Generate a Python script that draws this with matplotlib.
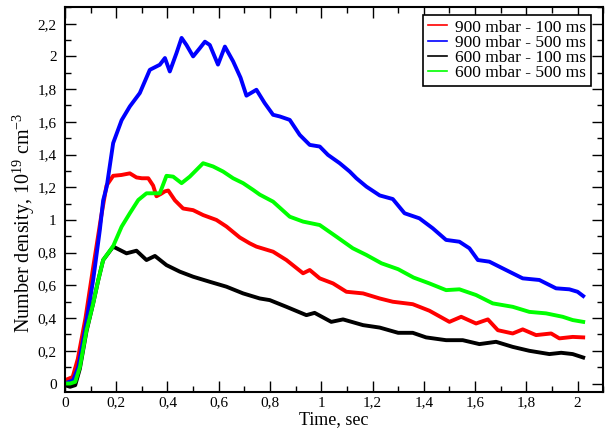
import numpy as np
import matplotlib.pyplot as plt
from matplotlib.ticker import MultipleLocator, FuncFormatter

plt.rcParams['font.family'] = ['Liberation Serif', 'DejaVu Serif']
plt.rcParams['mathtext.fontset'] = 'custom'
plt.rcParams['mathtext.rm'] = 'Liberation Serif'
plt.rcParams['mathtext.it'] = 'Liberation Serif:italic'

labels = ["900 mbar - 100 ms", "900 mbar - 500 ms", "600 mbar - 100 ms", "600 mbar - 500 ms"]
colors = ["#ff0000", "#0000ff", "#000000", "#00ff00"]

# 900 mbar - 100 ms
red_t = [0.0, 0.03, 0.05, 0.08, 0.11, 0.14, 0.162, 0.188, 0.22, 0.253, 0.279, 0.3, 0.325,
         0.344, 0.357, 0.375, 0.39, 0.403, 0.429, 0.461, 0.5, 0.539, 0.591, 0.63, 0.682,
         0.721, 0.747, 0.812, 0.864, 0.929, 0.955, 0.994, 1.046, 1.098, 1.163, 1.228,
         1.279, 1.357, 1.422, 1.5, 1.546, 1.604, 1.65, 1.689, 1.747, 1.786, 1.838,
         1.897, 1.929, 1.981, 2.022]
red_n = [0.02, 0.04, 0.15, 0.40, 0.71, 1.01, 1.21, 1.27, 1.275, 1.285, 1.26, 1.255, 1.255,
         1.21, 1.145, 1.16, 1.175, 1.18, 1.12, 1.07, 1.06, 1.03, 1.0, 0.96, 0.893,
         0.857, 0.837, 0.806, 0.755, 0.674, 0.694, 0.643, 0.612, 0.561, 0.551, 0.52,
         0.5, 0.485, 0.445, 0.377, 0.408, 0.367, 0.392, 0.326, 0.306, 0.331, 0.296,
         0.306, 0.276, 0.285, 0.282]

# 900 mbar - 500 ms
blue_t = [0.0, 0.032, 0.052, 0.078, 0.11, 0.136, 0.149, 0.163, 0.188, 0.221, 0.253, 0.292,
          0.331, 0.37, 0.39, 0.409, 0.435, 0.455, 0.474, 0.5, 0.526, 0.546, 0.565, 0.597,
          0.624, 0.656, 0.685, 0.708, 0.747, 0.779, 0.812, 0.838, 0.877, 0.916, 0.955,
          0.994, 1.026, 1.072, 1.111, 1.137, 1.176, 1.228, 1.279, 1.325, 1.383, 1.435,
          1.487, 1.539, 1.578, 1.611, 1.656, 1.708, 1.786, 1.851, 1.916, 1.968, 2.0, 2.022]
blue_n = [0.0, 0.02, 0.10, 0.326, 0.633, 0.939, 1.12, 1.204, 1.47, 1.61, 1.694, 1.776,
          1.918, 1.949, 1.99, 1.908, 2.02, 2.113, 2.07, 2.0, 2.05, 2.09, 2.07, 1.95,
          2.06, 1.97, 1.87, 1.76, 1.796, 1.715, 1.643, 1.633, 1.612, 1.52, 1.459,
          1.449, 1.398, 1.347, 1.296, 1.255, 1.204, 1.15, 1.128, 1.041, 1.01, 0.949,
          0.878, 0.867, 0.827, 0.755, 0.745, 0.704, 0.643, 0.633, 0.582, 0.576, 0.561, 0.535]

# 600 mbar - 100 ms
black_t = [0.0, 0.02, 0.04, 0.058, 0.084, 0.11, 0.13, 0.149, 0.188, 0.201, 0.24, 0.279,
           0.318, 0.351, 0.396, 0.448, 0.5, 0.565, 0.63, 0.695, 0.76, 0.799, 0.864,
           0.942, 0.974, 1.039, 1.085, 1.163, 1.228, 1.3, 1.357, 1.409, 1.487, 1.552,
           1.617, 1.682, 1.747, 1.812, 1.89, 1.936, 1.981, 2.022]
black_n = [-0.01, -0.02, -0.01, 0.09, 0.32, 0.49, 0.633, 0.755, 0.837, 0.827, 0.796, 0.812,
           0.755, 0.78, 0.724, 0.684, 0.653, 0.622, 0.592, 0.551, 0.52, 0.51, 0.469,
           0.418, 0.432, 0.377, 0.392, 0.357, 0.342, 0.31, 0.31, 0.282, 0.265, 0.265,
           0.241, 0.255, 0.224, 0.2, 0.18, 0.188, 0.18, 0.159]

# 600 mbar - 500 ms
green_t = [0.0, 0.02, 0.04, 0.058, 0.084, 0.11, 0.13, 0.149, 0.188, 0.221, 0.253, 0.286,
           0.318, 0.37, 0.396, 0.422, 0.455, 0.487, 0.539, 0.578, 0.617, 0.656, 0.695,
           0.734, 0.76, 0.812, 0.877, 0.929, 0.994, 1.059, 1.123, 1.176, 1.235, 1.3,
           1.36, 1.422, 1.487, 1.539, 1.604, 1.669, 1.747, 1.812, 1.877, 1.942, 1.981, 2.022]
green_n = [0.0, 0.0, 0.01, 0.10, 0.326, 0.49, 0.633, 0.755, 0.84, 0.959, 1.041, 1.122,
           1.163, 1.163, 1.27, 1.265, 1.225, 1.265, 1.347, 1.327, 1.296, 1.255, 1.225,
           1.184, 1.155, 1.112, 1.02, 0.99, 0.969, 0.898, 0.827, 0.786, 0.735, 0.699,
           0.648, 0.612, 0.571, 0.576, 0.541, 0.49, 0.469, 0.438, 0.429, 0.408, 0.388, 0.377]

series = [(red_t, red_n), (blue_t, blue_n), (black_t, black_n), (green_t, green_n)]

fig = plt.figure(figsize=(6.05, 4.32), dpi=100)
ax = fig.add_axes([0.1074, 0.0933, 0.8896, 0.8897])

for (t, n), c, lab in zip(series, colors, labels):
    ax.plot(t, n, color=c, lw=2.8, label=lab)

ax.set_xlim(0, 2.1)
ax.set_ylim(-0.05, 2.3)
ax.xaxis.set_major_locator(MultipleLocator(0.2))
ax.xaxis.set_minor_locator(MultipleLocator(0.1))
ax.yaxis.set_major_locator(MultipleLocator(0.2))
ax.yaxis.set_minor_locator(MultipleLocator(0.1))

comma = FuncFormatter(lambda v, p: ("%g" % round(v, 3)).replace(".", ","))
ax.xaxis.set_major_formatter(comma)
ax.yaxis.set_major_formatter(comma)

ax.tick_params(which='both', direction='in', top=True, right=True, width=1)
ax.tick_params(which='major', length=8, labelsize=11)
ax.tick_params(axis='y', which='major', pad=6)
ax.tick_params(which='minor', length=4)
for s in ax.spines.values():
    s.set_linewidth(1.5)

ax.set_xlabel("Time, sec", fontsize=13, labelpad=1)
ax.set_ylabel("Number density, 10$^{19}$ cm$^{-3}$", fontsize=14.5)
ax.yaxis.set_label_coords(-0.052, 0.44)

leg = ax.legend(loc='upper right', bbox_to_anchor=(0.977, 0.98), borderaxespad=0,
                fontsize=12.5, handlelength=1.1, handletextpad=0.5, labelspacing=-0.05,
                fancybox=False, framealpha=1, edgecolor='black', borderpad=0.25)
leg.get_frame().set_linewidth(1.2)
for line in leg.get_lines():
    line.set_linewidth(1.2)

fig.savefig("out.png", dpi=100)
